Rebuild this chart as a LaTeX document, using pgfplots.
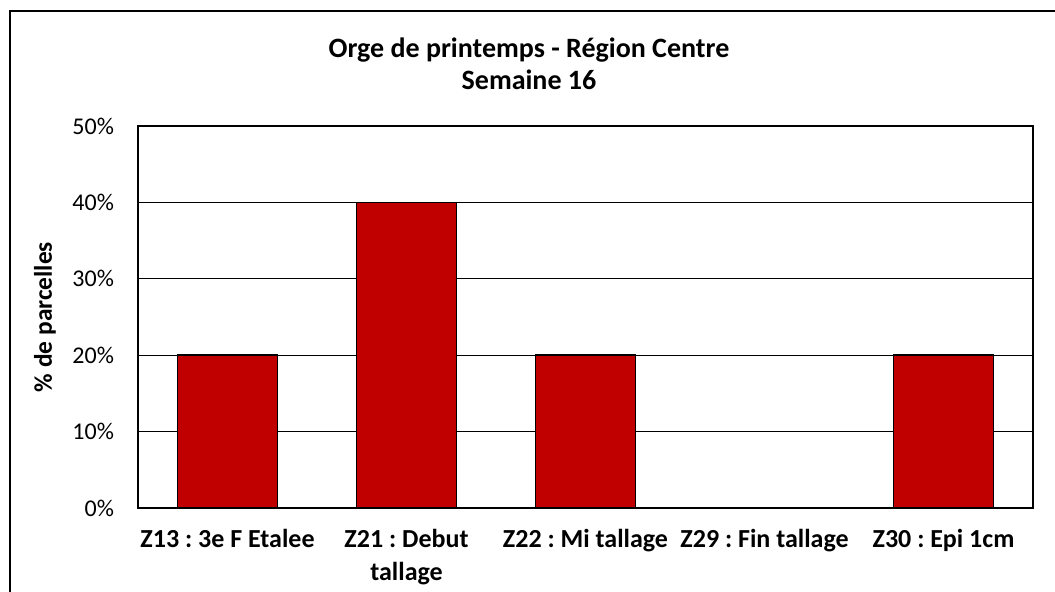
\documentclass[border=0pt]{standalone}
\usepackage{pgfplots}
\pgfplotsset{compat=1.18}
\usepackage{fontspec}
\setmainfont{Carlito}
\frenchspacing
\definecolor{barred}{HTML}{C00000}
\begin{document}
\begin{tikzpicture}[x=0.5pt,y=0.5pt]
\useasboundingbox (0,0) rectangle (1055,592);
\clip (0,0) rectangle (1055,592);
\draw[line width=1pt] (10,-10) -- (10,581) -- (1070,581);
\node[font=\bfseries\fontsize{14pt}{16pt}\selectfont, align=center, anchor=center] at (529,528) {Orge de printemps - Région Centre\\Semaine 16};
\begin{axis}[
  at={(69pt,42pt)}, anchor=south west,
  scale only axis,
  width=447.5pt, height=191pt,
  xmin=-0.5, xmax=4.5,
  ymin=0, ymax=50,
  ytick={0,10,20,30,40,50},
  yticklabel={\pgfmathprintnumber{\tick}\%},
  /pgf/number format/assume math mode=true,
  xtick={0,1,2,3,4},
  xticklabels={{Z13 : 3e F Etalee},{Z21 : Debut\\tallage},{Z22 : Mi tallage},{Z29 : Fin tallage},{Z30 : Epi 1cm}},
  xticklabel style={font=\bfseries\fontsize{13pt}{16.3pt}\selectfont, align=center, anchor=north, yshift=-7.3pt},
  yticklabel style={font=\fontsize{12pt}{14pt}\selectfont, xshift=-8.5pt},
  ylabel={\% de parcelles},
  ylabel style={font=\bfseries\fontsize{12.7pt}{14pt}\selectfont, at={(axis description cs:0,0.5)}, anchor=center, rotate=0, yshift=46.5pt},
  major tick length=0pt,
  ymajorgrids,
  grid style={black, line width=0.5pt},
  axis line style={black, line width=0.8pt},
  ybar, bar width=0.56,
]
\addplot[fill=barred, draw=black, line width=0.8pt] coordinates {(0,20) (1,40) (2,20) (3,0) (4,20)};
\end{axis}
\end{tikzpicture}
\end{document}
